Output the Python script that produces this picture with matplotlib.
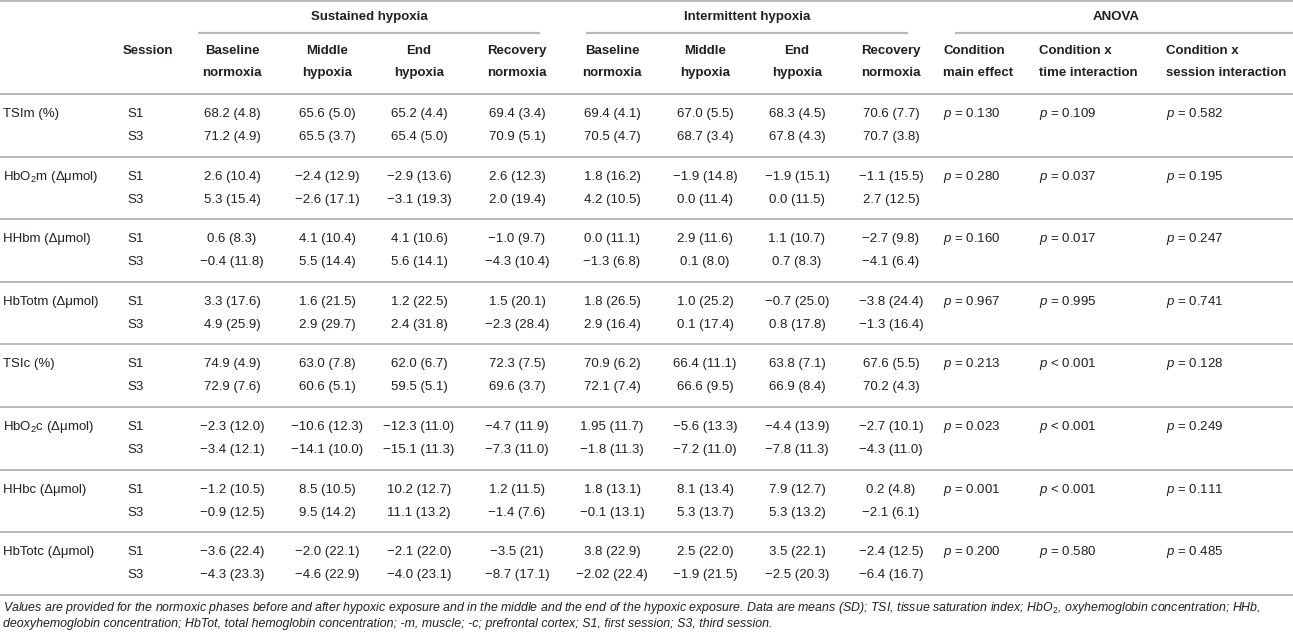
import matplotlib
matplotlib.use("Agg")
import matplotlib.pyplot as plt

groups = ["Sustained hypoxia", "Intermittent hypoxia", "ANOVA"]
phase_cols = ["Baseline\nnormoxia", "Middle\nhypoxia", "End\nhypoxia", "Recovery\nnormoxia"] * 2
anova_cols = ["Condition\nmain effect", "Condition x\ntime interaction", "Condition x\nsession interaction"]
sessions = ["S1", "S3"]

variables = ["TSIm (%)", "HbO$_2$m (Δμmol)", "HHbm (Δμmol)", "HbTotm (Δμmol)",
             "TSIc (%)", "HbO$_2$c (Δμmol)", "HHbc (Δμmol)", "HbTotc (Δμmol)"]

tsim = [["68.2 (4.8)", "65.6 (5.0)", "65.2 (4.4)", "69.4 (3.4)", "69.4 (4.1)", "67.0 (5.5)", "68.3 (4.5)", "70.6 (7.7)"],
        ["71.2 (4.9)", "65.5 (3.7)", "65.4 (5.0)", "70.9 (5.1)", "70.5 (4.7)", "68.7 (3.4)", "67.8 (4.3)", "70.7 (3.8)"]]
hbo2m = [["2.6 (10.4)", "−2.4 (12.9)", "−2.9 (13.6)", "2.6 (12.3)", "1.8 (16.2)", "−1.9 (14.8)", "−1.9 (15.1)", "−1.1 (15.5)"],
         ["5.3 (15.4)", "−2.6 (17.1)", "−3.1 (19.3)", "2.0 (19.4)", "4.2 (10.5)", "0.0 (11.4)", "0.0 (11.5)", "2.7 (12.5)"]]
hhbm = [["0.6 (8.3)", "4.1 (10.4)", "4.1 (10.6)", "−1.0 (9.7)", "0.0 (11.1)", "2.9 (11.6)", "1.1 (10.7)", "−2.7 (9.8)"],
        ["−0.4 (11.8)", "5.5 (14.4)", "5.6 (14.1)", "−4.3 (10.4)", "−1.3 (6.8)", "0.1 (8.0)", "0.7 (8.3)", "−4.1 (6.4)"]]
hbtotm = [["3.3 (17.6)", "1.6 (21.5)", "1.2 (22.5)", "1.5 (20.1)", "1.8 (26.5)", "1.0 (25.2)", "−0.7 (25.0)", "−3.8 (24.4)"],
          ["4.9 (25.9)", "2.9 (29.7)", "2.4 (31.8)", "−2.3 (28.4)", "2.9 (16.4)", "0.1 (17.4)", "0.8 (17.8)", "−1.3 (16.4)"]]
tsic = [["74.9 (4.9)", "63.0 (7.8)", "62.0 (6.7)", "72.3 (7.5)", "70.9 (6.2)", "66.4 (11.1)", "63.8 (7.1)", "67.6 (5.5)"],
        ["72.9 (7.6)", "60.6 (5.1)", "59.5 (5.1)", "69.6 (3.7)", "72.1 (7.4)", "66.6 (9.5)", "66.9 (8.4)", "70.2 (4.3)"]]
hbo2c = [["−2.3 (12.0)", "−10.6 (12.3)", "−12.3 (11.0)", "−4.7 (11.9)", "1.95 (11.7)", "−5.6 (13.3)", "−4.4 (13.9)", "−2.7 (10.1)"],
         ["−3.4 (12.1)", "−14.1 (10.0)", "−15.1 (11.3)", "−7.3 (11.0)", "−1.8 (11.3)", "−7.2 (11.0)", "−7.8 (11.3)", "−4.3 (11.0)"]]
hhbc = [["−1.2 (10.5)", "8.5 (10.5)", "10.2 (12.7)", "1.2 (11.5)", "1.8 (13.1)", "8.1 (13.4)", "7.9 (12.7)", "0.2 (4.8)"],
        ["−0.9 (12.5)", "9.5 (14.2)", "11.1 (13.2)", "−1.4 (7.6)", "−0.1 (13.1)", "5.3 (13.7)", "5.3 (13.2)", "−2.1 (6.1)"]]
hbtotc = [["−3.6 (22.4)", "−2.0 (22.1)", "−2.1 (22.0)", "−3.5 (21)", "3.8 (22.9)", "2.5 (22.0)", "3.5 (22.1)", "−2.4 (12.5)"],
          ["−4.3 (23.3)", "−4.6 (22.9)", "−4.0 (23.1)", "−8.7 (17.1)", "−2.02 (22.4)", "−1.9 (21.5)", "−2.5 (20.3)", "−6.4 (16.7)"]]
cells = [tsim, hbo2m, hhbm, hbtotm, tsic, hbo2c, hhbc, hbtotc]

p_main = ["= 0.130", "= 0.280", "= 0.160", "= 0.967", "= 0.213", "= 0.023", "= 0.001", "= 0.200"]
p_time = ["= 0.109", "= 0.037", "= 0.017", "= 0.995", "< 0.001", "< 0.001", "< 0.001", "= 0.580"]
p_sess = ["= 0.582", "= 0.195", "= 0.247", "= 0.741", "= 0.128", "= 0.249", "= 0.111", "= 0.485"]

footnote = ["Values are provided for the normoxic phases before and after hypoxic exposure and in the middle and the end "
            "of the hypoxic exposure. Data are means (SD); TSI, tissue saturation index; HbO$_2$, oxyhemoglobin "
            "concentration; HHb,",
            "deoxyhemoglobin concentration; HbTot, total hemoglobin concentration; -m, muscle; -c; prefrontal cortex; "
            "S1, first session; S3, third session."]

# ---- styling ----
plt.rcParams['font.family'] = ['Liberation Sans', 'DejaVu Sans']
plt.rcParams['mathtext.fontset'] = 'custom'
plt.rcParams['mathtext.rm'] = 'Liberation Sans'
plt.rcParams['mathtext.it'] = 'Liberation Sans:italic'
plt.rcParams['mathtext.bf'] = 'Liberation Sans:bold'

TXT = '#231f20'
RULE = '#b9b9b9'
FS = 9.5

fig = plt.figure(figsize=(12.93, 6.36), dpi=100)
ax = fig.add_axes([0, 0, 1, 1])
ax.set_xlim(0, 1293)
ax.set_ylim(636, 0)
ax.axis('off')

# column positions (pixels)
x_label = 3
x_sess = 127
x_phase = [232, 327, 419, 517, 612, 705, 797, 891]
x_anova = [943, 1039, 1166]
group_spans = [(198, 540), (586, 908), (955, 1293)]

# header
ax.axhline(1, color=RULE, lw=1.4)
for name, (x0, x1) in zip(groups, group_spans):
    ax.text((x0 + x1) / 2 + (0 if name != "ANOVA" else -8), 17, name, ha='center', va='center',
            fontsize=FS, fontweight='bold', color=TXT)
    ax.plot([x0, x1], [33, 33], color=RULE, lw=1.6, solid_capstyle='butt')

ax.text(x_sess - 4, 51, "Session", ha='left', va='center', fontsize=FS, fontweight='bold', color=TXT)
for x, lab in zip(x_phase, phase_cols):
    top, bot = lab.split("\n")
    ax.text(x, 51, top, ha='center', va='center', fontsize=FS, fontweight='bold', color=TXT)
    ax.text(x, 73, bot, ha='center', va='center', fontsize=FS, fontweight='bold', color=TXT)
for x, lab in zip(x_anova, anova_cols):
    top, bot = lab.split("\n")
    ax.text(x, 51, top, ha='left', va='center', fontsize=FS, fontweight='bold', color=TXT)
    ax.text(x, 73, bot, ha='left', va='center', fontsize=FS, fontweight='bold', color=TXT)

ax.axhline(94, color=RULE, lw=1.4)

# body
block_h = 62.6
for i, var in enumerate(variables):
    top = 94 + i * block_h
    y1, y2 = top + 20, top + 43
    ax.text(x_label, y1, var, ha='left', va='center', fontsize=FS, color=TXT)
    for row, y in zip(range(2), (y1, y2)):
        ax.text(x_sess, y, sessions[row], ha='left', va='center', fontsize=FS, color=TXT)
        for x, val in zip(x_phase, cells[i][row]):
            ax.text(x, y, val, ha='center', va='center', fontsize=FS, color=TXT)
    for x, pv in zip(x_anova, (p_main[i], p_time[i], p_sess[i])):
        ax.text(x, y1, "$p$ " + pv, ha='left', va='center', fontsize=FS, color=TXT)
    ax.axhline(top + block_h, color=RULE, lw=1.4)

# footnote, scaled so the first line spans the table width
fn = ax.text(x_label, 608, footnote[0], ha='left', va='center', fontsize=8, style='italic', color=TXT)
fig.canvas.draw()
w = fn.get_window_extent().width
fs_fn = 8 * 1263 / w
fn.set_fontsize(fs_fn)
ax.text(x_label, 624, footnote[1], ha='left', va='center', fontsize=fs_fn, style='italic', color=TXT)

fig.savefig("out.png", dpi=100)
plt.close(fig)
